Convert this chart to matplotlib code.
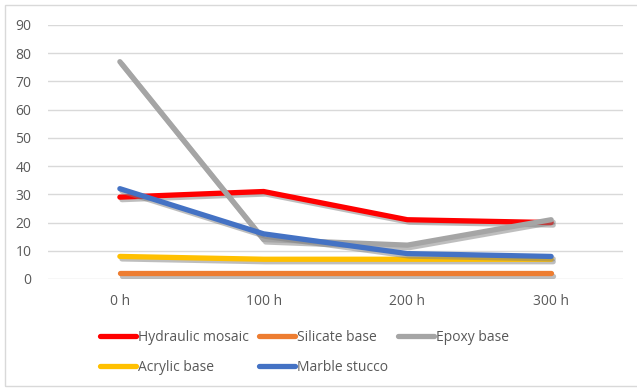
import matplotlib
matplotlib.use("Agg")
import matplotlib.pyplot as plt
import matplotlib.patheffects as pe
from matplotlib.patches import Rectangle

# exposure times and measured values per finish
hours = ["0 h", "100 h", "200 h", "300 h"]
hydraulic_mosaic = [29, 31, 21, 20]
silicate_base = [2, 2, 2, 2]
epoxy_base = [77, 14, 12, 21]
acrylic_base = [8, 7, 7, 7]
marble_stucco = [32, 16, 9, 8]

series = [
    ("Hydraulic mosaic", hydraulic_mosaic, "#FF0000"),
    ("Silicate base", silicate_base, "#ED7D31"),
    ("Epoxy base", epoxy_base, "#A5A5A5"),
    ("Acrylic base", acrylic_base, "#FFC000"),
    ("Marble stucco", marble_stucco, "#4472C4"),
]

plt.rcParams["font.family"] = ["Open Sans", "DejaVu Sans"]
plt.rcParams["font.size"] = 10

fig = plt.figure(figsize=(6.37, 3.88), dpi=100)
ax = fig.add_axes([48 / 637, 1 - 279 / 388, 575 / 637, 254 / 388])

# light frame around the whole chart
fig.patches.append(Rectangle((5 / 637, 2 / 388), 1.2, 381 / 388, transform=fig.transFigure,
                             fill=False, edgecolor="#D9D9D9", linewidth=1.0))

shadow = [pe.SimpleLineShadow(offset=(1.5, -1.8), shadow_color="#7f7f7f", alpha=0.5),
          pe.Normal()]

x = list(range(len(hours)))
lines = {}
for name, vals, color in series:
    ln, = ax.plot(x, vals, color=color, linewidth=3.8, solid_capstyle="round",
                  solid_joinstyle="round", label=name, path_effects=shadow, zorder=3)
    lines[name] = ln

ax.set_xlim(-0.5, len(hours) - 0.5)
ax.set_ylim(0, 90)
ax.set_yticks(range(0, 91, 10))
ax.set_xticks(x)
ax.set_xticklabels(hours)
ax.yaxis.grid(True, color="#D9D9D9", linewidth=1.0)
ax.set_axisbelow(True)
for s in ax.spines.values():
    s.set_visible(False)
ax.tick_params(axis="both", length=0, colors="#595959", labelsize=10)
ax.tick_params(axis="y", pad=12)
ax.tick_params(axis="x", pad=11)

# legend laid out in two rows, three per row
order = ["Hydraulic mosaic", "Acrylic base", "Silicate base", "Marble stucco", "Epoxy base"]
leg = fig.legend([lines[n] for n in order], order, ncol=3, loc="upper left",
                 bbox_to_anchor=(100 / 637, 1 - 330 / 388), frameon=False,
                 borderpad=0, borderaxespad=0, handlelength=2.6, handletextpad=0.15,
                 columnspacing=0.7, labelspacing=1.05, fontsize=10)
for t in leg.get_texts():
    t.set_color("#595959")
for h in leg.legend_handles:
    h.set_path_effects([])
    h.set_solid_capstyle("round")

fig.savefig("out.png", dpi=100)
